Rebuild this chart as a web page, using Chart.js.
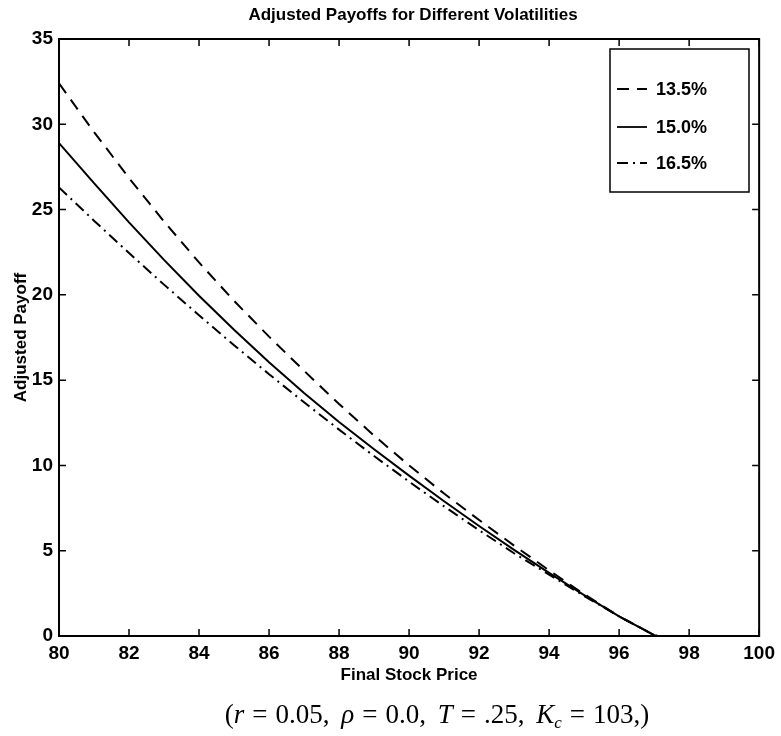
<!DOCTYPE html>
<html>
<head>
<meta charset="utf-8">
<script src="https://cdn.jsdelivr.net/npm/chart.js@4"></script>
<style>
  html, body { margin: 0; padding: 0; background: #fff; }
  #wrap { position: relative; width: 781px; height: 736px; }
  #caption {
    position: absolute; left: 0; width: 874px; top: 699px; text-align: center;
    font-family: "Liberation Serif", "DejaVu Serif", serif; font-size: 27px; color: #000;
    white-space: nowrap; word-spacing: 5px;
  }
  #caption i { font-style: italic; }
  #caption .eq { margin: 0 8px; }
  #caption sub { font-size: 17px; vertical-align: -5px; line-height: 0; }
</style>
</head>
<body>
<div id="wrap">
  <canvas id="c" width="781" height="736"></canvas>
  <div id="caption">(<i>r</i><span class="eq">=</span>0.05, <i>ρ</i><span class="eq">=</span>0.0, <i>T</i><span class="eq">=</span>.25, <i>K</i><sub><i>c</i></sub><span class="eq">=</span>103,)</div>
</div>
<script>
const chartTitle = "Adjusted Payoffs for Different Volatilities";
const xTitle = "Final Stock Price";
const yTitle = "Adjusted Payoff";
const seriesLabels = ["13.5%", "15.0%", "16.5%"];
const prices = [80, 81, 82, 83, 84, 85, 86, 87, 88, 89, 90, 91, 92, 93, 94, 95, 96, 97, 97.1];
const payoff135 = [32.4, 29.55, 26.85, 24.3, 21.9, 19.65, 17.55, 15.55, 13.6, 11.75, 10.0, 8.35, 6.8, 5.3, 3.85, 2.45, 1.15, 0.05, 0];
const payoff150 = [28.9, 26.55, 24.25, 22.05, 19.95, 17.95, 16.05, 14.25, 12.55, 10.95, 9.4, 7.9, 6.45, 5.05, 3.7, 2.4, 1.15, 0.05, 0];
const payoff165 = [26.3, 24.35, 22.45, 20.6, 18.8, 17.05, 15.35, 13.7, 12.1, 10.55, 9.05, 7.6, 6.2, 4.85, 3.6, 2.35, 1.15, 0.05, 0];
const xTicks = [80, 82, 84, 86, 88, 90, 92, 94, 96, 98, 100];
const yTicks = [0, 5, 10, 15, 20, 25, 30, 35];

const toPts = (vals) => prices.map((p, i) => ({ x: p, y: vals[i] }));
const dashes = [[12, 8], [], [11, 5, 2, 5]];
const seriesValues = [payoff135, payoff150, payoff165];

const datasets = seriesLabels.map((lab, i) => ({
  label: lab,
  data: toPts(seriesValues[i]),
  borderColor: '#000',
  borderWidth: 2,
  borderDash: dashes[i],
  pointRadius: 0,
  fill: false,
  tension: 0
}));

const FONT = "'Liberation Sans', Arial, Helvetica, sans-serif";

const framePlugin = {
  id: 'frame',
  afterDraw(chart) {
    const ctx = chart.ctx;
    const a = chart.chartArea;
    const xs = chart.scales.x, ys = chart.scales.y;
    ctx.save();
    ctx.strokeStyle = '#000';
    ctx.lineWidth = 2;
    ctx.strokeRect(a.left, a.top, a.right - a.left, a.bottom - a.top);
    ctx.lineWidth = 1.5;
    const tl = 7;
    ctx.beginPath();
    xTicks.forEach(v => {
      const px = xs.getPixelForValue(v);
      ctx.moveTo(px, a.bottom); ctx.lineTo(px, a.bottom - tl);
      ctx.moveTo(px, a.top); ctx.lineTo(px, a.top + tl);
    });
    yTicks.forEach(v => {
      const py = ys.getPixelForValue(v);
      ctx.moveTo(a.left, py); ctx.lineTo(a.left + tl, py);
      ctx.moveTo(a.right, py); ctx.lineTo(a.right - tl, py);
    });
    ctx.stroke();

    // title
    ctx.fillStyle = '#000';
    ctx.font = "bold 17px " + FONT;
    ctx.textAlign = 'center';
    ctx.textBaseline = 'middle';
    ctx.fillText(chartTitle, (a.left + a.right) / 2 + 4, 15);

    // legend
    const bx = 610, by = 49, bw = 139, bh = 143;
    ctx.fillStyle = '#fff';
    ctx.fillRect(bx, by, bw, bh);
    ctx.lineWidth = 1.5;
    ctx.strokeRect(bx, by, bw, bh);
    const rows = [89, 127, 163];
    chart.data.datasets.forEach((ds, i) => {
      ctx.beginPath();
      ctx.setLineDash(ds.borderDash || []);
      ctx.lineWidth = 1.8;
      ctx.moveTo(617, rows[i]); ctx.lineTo(647, rows[i]);
      ctx.stroke();
      ctx.setLineDash([]);
      ctx.fillStyle = '#000';
      ctx.font = "bold 18px " + FONT;
      ctx.textAlign = 'left';
      ctx.textBaseline = 'middle';
      ctx.fillText(ds.label, 656, rows[i] + 1);
    });
    ctx.restore();
  }
};

new Chart(document.getElementById('c'), {
  type: 'line',
  data: { datasets },
  options: {
    responsive: false,
    animation: false,
    layout: { padding: { top: 39, right: 18, bottom: 50, left: 0 } },
    plugins: { legend: { display: false }, title: { display: false }, tooltip: { enabled: false } },
    scales: {
      x: {
        type: 'linear', min: 80, max: 100,
        afterFit: (s) => { s.height = 50; },
        afterBuildTicks: (s) => { s.ticks = xTicks.map(v => ({ value: v })); },
        grid: { display: false, drawTicks: false },
        border: { display: false },
        ticks: { color: '#000', padding: 6, maxRotation: 0, autoSkip: false, font: { family: FONT, size: 19, weight: 'bold' } },
        title: { display: true, text: xTitle, color: '#000', padding: { top: 0, bottom: 0 }, font: { family: FONT, size: 17, weight: 'bold' } }
      },
      y: {
        type: 'linear', min: 0, max: 35,
        afterFit: (s) => { s.width = 59; },
        afterBuildTicks: (s) => { s.ticks = yTicks.map(v => ({ value: v })); },
        grid: { display: false, drawTicks: false },
        border: { display: false },
        ticks: { color: '#000', padding: 6, autoSkip: false, font: { family: FONT, size: 19, weight: 'bold' } },
        title: { display: true, text: yTitle, color: '#000', padding: { top: 11, bottom: 0 }, font: { family: FONT, size: 17, weight: 'bold' } }
      }
    }
  },
  plugins: [framePlugin]
});
</script>
</body>
</html>
